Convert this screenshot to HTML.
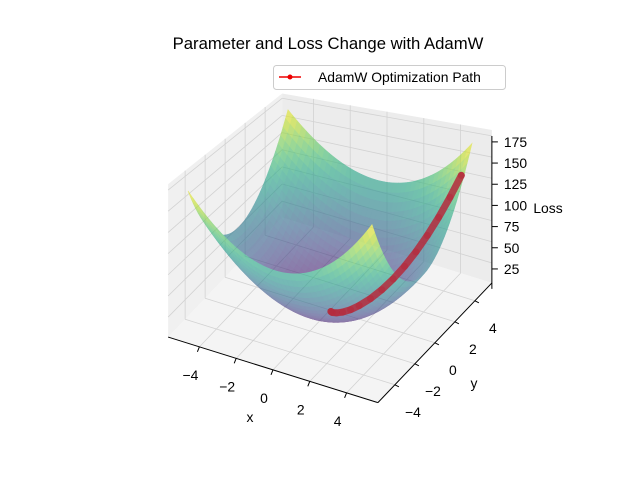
<!DOCTYPE html>
<html><head><meta charset="utf-8"><style>
html,body{margin:0;padding:0;background:#fff}
svg{display:block;font-family:"Liberation Sans","DejaVu Sans",sans-serif}
</style></head><body>
<svg id="chart" width="640" height="480" viewBox="0 0 640 480">
<rect width="640" height="480" fill="#fff"/>
<g id="panes"></g>
<g id="grid"></g>
<g id="surface" opacity="0.6"></g>
<g id="path"></g>
<g id="axes"></g>
<text x="328" y="49" font-size="16.7" text-anchor="middle">Parameter and Loss Change with AdamW</text>
<text x="250" y="422" font-size="13.9" text-anchor="middle">x</text>
<text x="474" y="388" font-size="13.9" text-anchor="middle">y</text>
<text x="548" y="213" font-size="13.9" text-anchor="middle">Loss</text>
<g>
<rect x="273.5" y="65.5" width="232" height="24" rx="3" fill="#fff" fill-opacity="0.8" stroke="#ccc"/>
<line x1="279" y1="77" x2="301" y2="77" stroke="#e00" stroke-width="1.5"/>
<circle cx="290" cy="77" r="2.5" fill="#e00"/>
<text x="318" y="82" font-size="13.9">AdamW Optimization Path</text>
</g>
</svg>
<script>
const lossCoefX = [2.8];
const lossCoefY = [4.0];
const pathX = [4.8,4.4,4.0,3.6,3.2,2.8,2.4,2.0,1.6,1.2,0.9,0.6,0.35,0.15,0.05];
const pathY = [4.3,3.9,3.5,3.1,2.7,2.3,1.9,1.5,1.1,0.7,0.4,0.15,0.0,-0.05,0.0];
const xTicks = [-4,-2,0,2,4];
const yTicks = [-4,-2,0,2,4];
const zTicks = [25,50,75,100,125,150,175];

const NS="http://www.w3.org/2000/svg";
const C=[330,310], ux=[18.4,5.75], uy=[10,-10.5], zb=1.4, zt=182, zs=0.847, E=5.7;
function loss(x,y){return lossCoefX[0]*x*x+lossCoefY[0]*y*y;}
function P(x,y,z){
  const bx=C[0]+x*ux[0]+y*uy[0], by=C[1]+x*ux[1]+y*uy[1];
  let back=(-x+y)/(2*E); back=Math.max(-1,Math.min(1,back));
  const s=1-0.19*back;
  return [bx, by-(z-zb)*zs*s];
}
function el(tag,attrs,parent){const e=document.createElementNS(NS,tag);for(const k in attrs)e.setAttribute(k,attrs[k]);parent.appendChild(e);return e;}
function pts(a){return a.map(p=>p[0].toFixed(2)+","+p[1].toFixed(2)).join(" ");}
const vir=["#440154","#482475","#414487","#355f8d","#2a788e","#21918c","#22a884","#44bf70","#7ad151","#bddf26","#fde725"];
function hex(h){return [1,3,5].map(i=>parseInt(h.substr(i,2),16));}
function viridis(t){t=Math.max(0,Math.min(1,t))*10;const i=Math.min(9,Math.floor(t)),f=t-i;const a=hex(vir[i]),b=hex(vir[i+1]);
  return "rgb("+a.map((v,k)=>Math.round(v+(b[k]-v)*f)).join(",")+")";}

const panes=document.getElementById("panes");
let p=el("polygon",{points:pts([P(-E,-E,zb),P(-E,E,zb),P(E,E,zb),P(E,-E,zb)]),fill:"#f4f4f4"},panes);

p=el("polygon",{points:pts([P(-E,-E,zb),P(-E,E,zb),P(-E,E,zt),P(-E,-E,zt)]),fill:"#f0f0f0"},panes);

p=el("polygon",{points:pts([P(-E,E,zb),P(E,E,zb),P(E,E,zt),P(-E,E,zt)]),fill:"#ececec"},panes);


const grid=document.getElementById("grid");
function gl(a,b,name){const l=el("polyline",{points:pts([a,b]),stroke:"#d2d2d2","stroke-width":"0.8",fill:"none"},grid);
  }
xTicks.forEach(t=>{gl(P(t,-E,zb),P(t,E,zb),'floor-grid-x');gl(P(t,E,zb),P(t,E,zt),'wall-grid-x');});
yTicks.forEach(t=>{gl(P(-E,t,zb),P(E,t,zb),'floor-grid-y');gl(P(-E,t,zb),P(-E,t,zt),'wall-grid-y');});
zTicks.forEach(t=>{gl(P(-E,-E,t),P(-E,E,t),'wall-grid-z');gl(P(-E,E,t),P(E,E,t),'wall-grid-z');});

const surf=document.getElementById("surface");
const N=40, quads=[];
let zmax=0;
for(let i=0;i<=N;i++)for(let j=0;j<=N;j++){zmax=Math.max(zmax,loss(-5+10*i/N,-5+10*j/N));}
for(let i=0;i<N;i++)for(let j=0;j<N;j++){
  const x0=-5+10*i/N,x1=-5+10*(i+1)/N,y0=-5+10*j/N,y1=-5+10*(j+1)/N;
  const xc=(x0+x1)/2,yc=(y0+y1)/2,zc=loss(xc,yc);
  quads.push({d:xc*0.5-yc*0.866,c:[[x0,y0],[x1,y0],[x1,y1],[x0,y1]],z:zc});
}
quads.sort((a,b)=>a.d-b.d);
quads.forEach(q=>{
  const col=viridis(q.z/zmax);
  const poly=el("polygon",{points:pts(q.c.map(c=>P(c[0],c[1],loss(c[0],c[1])))),fill:col,stroke:col,"stroke-width":"0.6"},surf);
  
  
});

const pg=document.getElementById("path");
const pp=pathX.map((x,i)=>P(x,pathY[i],loss(x,pathY[i])));
const pl=el("polyline",{points:pts(pp),fill:"none",stroke:"#b52a3c","stroke-width":"7","stroke-linecap":"round","stroke-linejoin":"round","stroke-opacity":"0.85"},pg);


pp.forEach(q=>{const c=el("circle",{cx:q[0].toFixed(2),cy:q[1].toFixed(2),r:"3.5",fill:"#b52a3c","fill-opacity":"0.6"},pg);
  
  });

const ax=document.getElementById("axes");
function line(a,b,name){const l=el("polyline",{points:pts([a,b]),stroke:"#000","stroke-width":"1",fill:"none"},ax);
  }
function txt(x,y,s,anchor,name){const t=el("text",{x:x.toFixed(1),y:y.toFixed(1),"font-size":"13.9","text-anchor":anchor},ax);t.textContent=s;
  }
function lab(v){return v<0?"\u2212"+Math.abs(v):String(v);}
const zOff=6;
line(P(-E,-E,zb),P(E,-E,zb),'x-axis-line');
line(P(E,-E,zb),P(E,E,zb),'y-axis-line');
const zA=P(E,E,zb), zB=P(E,E,zt);
line([zA[0],zA[1]+zOff],[zB[0],zB[1]+zOff],'z-axis-line');
xTicks.forEach(t=>{const a=P(t,-E,zb);line(a,[a[0]-2,a[1]+5],'x-tick');txt(a[0]-9,a[1]+33,lab(t),"middle",'x-tick-label');});
yTicks.forEach(t=>{const a=P(E,t,zb);line(a,[a[0]+4,a[1]+2],'y-tick');txt(a[0]+18,a[1]+32,lab(t),"middle",'y-tick-label');});
zTicks.forEach(t=>{const a=P(E,E,t);a[1]+=zOff;line(a,[a[0]+6,a[1]],'z-tick');txt(a[0]+12,a[1]+5,String(t),"start",'z-tick-label');});
</script>
</body></html>
